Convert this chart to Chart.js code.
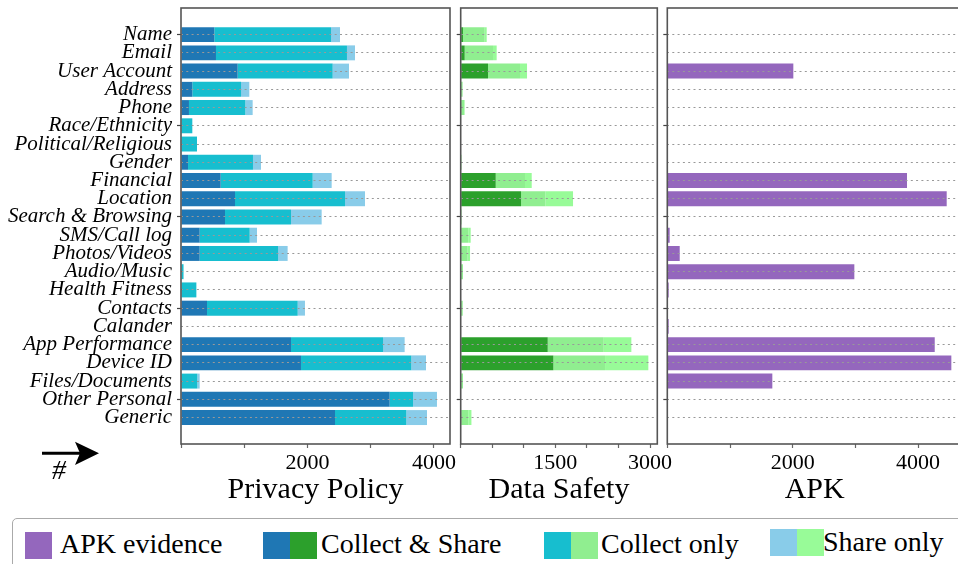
<!DOCTYPE html>
<html>
<head>
<meta charset="utf-8">
<script src="https://cdn.jsdelivr.net/npm/chart.js@4.4.1/dist/chart.umd.min.js"></script>
<style>
  body { margin: 0; width: 958px; height: 564px; overflow: hidden; background: #fff; font-family: "Liberation Serif", serif; }
  canvas { position: absolute; top: 0; }
  .legend { position: absolute; left: 12px; top: 518px; width: 980px; height: 70px; border: 1.5px solid #aaa; border-radius: 5px; box-sizing: border-box; }
  .patch { position: absolute; width: 27px; height: 27px; }
  .txt { position: absolute; font-size: 28px; line-height: 28px; color: #000; white-space: nowrap; }
</style>
</head>
<body>
<canvas id="pp" width="460" height="516" style="left:0px"></canvas>
<canvas id="ds" width="222" height="516" style="left:452px"></canvas>
<canvas id="apk" width="310" height="516" style="left:660px"></canvas>

<svg style="position:absolute;left:0;top:430px" width="120" height="60">
  <line x1="42" y1="23.3" x2="82" y2="23.3" stroke="#000" stroke-width="3"/>
  <polygon points="75,11.7 99,23.3 75,35 80,23.3" fill="#000"/>
</svg>
<div class="txt" style="left:52px;top:456px;font-style:italic;">#</div>

<div class="legend"></div>
<div class="patch" style="left:25px;top:532px;background:#9467bd"></div>
<div class="txt" style="left:60px;top:529.5px">APK evidence</div>
<div class="patch" style="left:263px;top:532px;background:#1f77b4"></div>
<div class="patch" style="left:290px;top:532px;background:#2ca02c"></div>
<div class="txt" style="left:321px;top:529.5px">Collect &amp; Share</div>
<div class="patch" style="left:544px;top:532px;background:#17becf"></div>
<div class="patch" style="left:571px;top:532px;background:#90ee90"></div>
<div class="txt" style="left:601px;top:529.5px">Collect only</div>
<div class="patch" style="left:770px;top:529px;background:#89cce9"></div>
<div class="patch" style="left:797px;top:529px;background:#98fb98"></div>
<div class="txt" style="left:823px;top:528px">Share only</div>

<script>
const categories = [
    "Name", "Email", "User Account", "Address", "Phone", "Race/Ethnicity",
    "Political/Religious", "Gender", "Financial", "Location", "Search & Browsing",
    "SMS/Call log", "Photos/Videos", "Audio/Music", "Health Fitness", "Contacts",
    "Calander", "App Performance", "Device ID", "Files/Documents", "Other Personal", "Generic",
];

// Privacy Policy
const ppCollectShare = [527, 553, 896, 179, 126, 0, 0, 111, 627, 854, 696, 295, 295, 0, 0, 411, 0, 1739, 1897, 0, 3299, 2435];
const ppCollectOnly = [1845, 2071, 1502, 770, 891, 179, 253, 1027, 1455, 1739, 1043, 791, 1239, 40, 243, 1434, 0, 1455, 1745, 258, 369, 1128];
const ppShareOnly = [142, 127, 258, 131, 116, 0, 0, 127, 300, 316, 485, 116, 152, 0, 0, 115, 0, 342, 232, 37, 379, 326];

// Data Safety
const dsCollectShare = [36, 63, 433, 0, 0, 0, 0, 0, 555, 956, 0, 0, 0, 0, 0, 0, 0, 1379, 1468, 0, 0, 0];
const dsCollectOnly = [344, 449, 507, 30, 55, 0, 0, 15, 464, 385, 15, 120, 110, 36, 0, 32, 0, 887, 819, 36, 0, 120];
const dsShareOnly = [32, 58, 111, 0, 8, 0, 0, 0, 106, 439, 0, 38, 38, 0, 0, 0, 0, 438, 686, 0, 0, 50];

// APK
const apkEvidence = [0, 0, 2010, 0, 0, 0, 0, 0, 3823, 4456, 0, 38, 198, 2983, 22, 0, 22, 4265, 4530, 1675, 0, 0];

// tick labels
const ppTicks = [2000, 4000];
const dsTicks = [1500, 3000];
const apkTicks = [2000, 4000];

const serif = "Liberation Serif";

const toPoints = values => values.map((v, i) => ({ x: v, y: i }));

const framePlugin = {
    id: "frame",
    afterDraw(chart) {
        const { ctx, chartArea: a } = chart;
        ctx.save();
        ctx.strokeStyle = "#555";
        ctx.lineWidth = 1.6;
        ctx.strokeRect(a.left, a.top, a.right - a.left, a.bottom - a.top);
        ctx.restore();
    },
};

const makePanel = (id, datasets, cfg) => {
    return new Chart(document.getElementById(id), {
        type: "bar",
        data: { datasets: datasets },
        plugins: [framePlugin],
        options: {
            indexAxis: "y",
            responsive: false,
            animation: false,
            events: [],
            layout: { padding: { top: 8, right: cfg.padRight, bottom: 0, left: 0 } },
            plugins: { legend: { display: false }, tooltip: { enabled: false } },
            datasets: { bar: { barPercentage: 0.82, categoryPercentage: 1, borderWidth: 0 } },
            scales: {
                x: {
                    type: "linear",
                    stacked: true,
                    min: 0,
                    max: cfg.max,
                    afterBuildTicks: s => {
                        const t = [];
                        for (let v = 0; v <= cfg.max; v += cfg.step) t.push({ value: v });
                        s.ticks = t;
                    },
                    afterFit: s => { s.height = 72; s.paddingLeft = 0; s.paddingRight = 0; },
                    ticks: {
                        maxRotation: 0,
                        autoSkip: false,
                        padding: 2,
                        color: "#000",
                        font: { family: serif, size: 22 },
                        callback: v => cfg.labels.includes(v) ? v : "",
                    },
                    grid: { drawOnChartArea: false, drawTicks: true, tickLength: 4, tickColor: "#666", tickWidth: 1.2 },
                    border: { display: false },
                    title: {
                        display: true,
                        text: cfg.title,
                        color: "#000",
                        font: { family: serif, size: 30 },
                        padding: { top: 0, bottom: 8 },
                    },
                },
                y: {
                    type: "linear",
                    stacked: true,
                    reverse: true,
                    offset: false,
                    min: -1.46,
                    max: 22.45,
                    afterBuildTicks: s => { s.ticks = categories.map((c, i) => ({ value: i })); },
                    afterFit: s => { s.width = cfg.yWidth; s.paddingTop = 0; s.paddingBottom = 0; },
                    ticks: {
                        display: cfg.showLabels,
                        autoSkip: false,
                        padding: 5,
                        color: "#000",
                        font: { family: serif, size: 21, style: "italic" },
                        callback: v => categories[v],
                    },
                    grid: {
                        z: 1,
                        offset: false,
                        color: "#999",
                        lineWidth: 1,
                        drawTicks: true,
                        tickLength: 4,
                        tickWidth: 1.2,
                        tickColor: ctx => ctx.index % 5 === 0 ? "#444" : "rgba(0,0,0,0)",
                    },
                    border: { display: false, dash: [2, 3.3] },
                },
            },
        },
    });
};

makePanel("pp", [
    { label: "Collect & Share", data: toPoints(ppCollectShare), backgroundColor: "#1f77b4" },
    { label: "Collect only", data: toPoints(ppCollectOnly), backgroundColor: "#17becf" },
    { label: "Share only", data: toPoints(ppShareOnly), backgroundColor: "#89cce9" },
], { title: "Privacy Policy", max: 4253, step: 1000, labels: ppTicks, padRight: 10, yWidth: 181, showLabels: true });

makePanel("ds", [
    { label: "Collect & Share", data: toPoints(dsCollectShare), backgroundColor: "#2ca02c" },
    { label: "Collect only", data: toPoints(dsCollectOnly), backgroundColor: "#90ee90" },
    { label: "Share only", data: toPoints(dsShareOnly), backgroundColor: "#98fb98" },
], { title: "Data Safety", max: 3115, step: 500, labels: dsTicks, padRight: 16.7, yWidth: 8.7, showLabels: false });

makePanel("apk", [
    { label: "APK evidence", data: toPoints(apkEvidence), backgroundColor: "#9467bd" },
], { title: "APK", max: 4700, step: 1000, labels: apkTicks, padRight: 8, yWidth: 7.3, showLabels: false });
</script>
</body>
</html>
